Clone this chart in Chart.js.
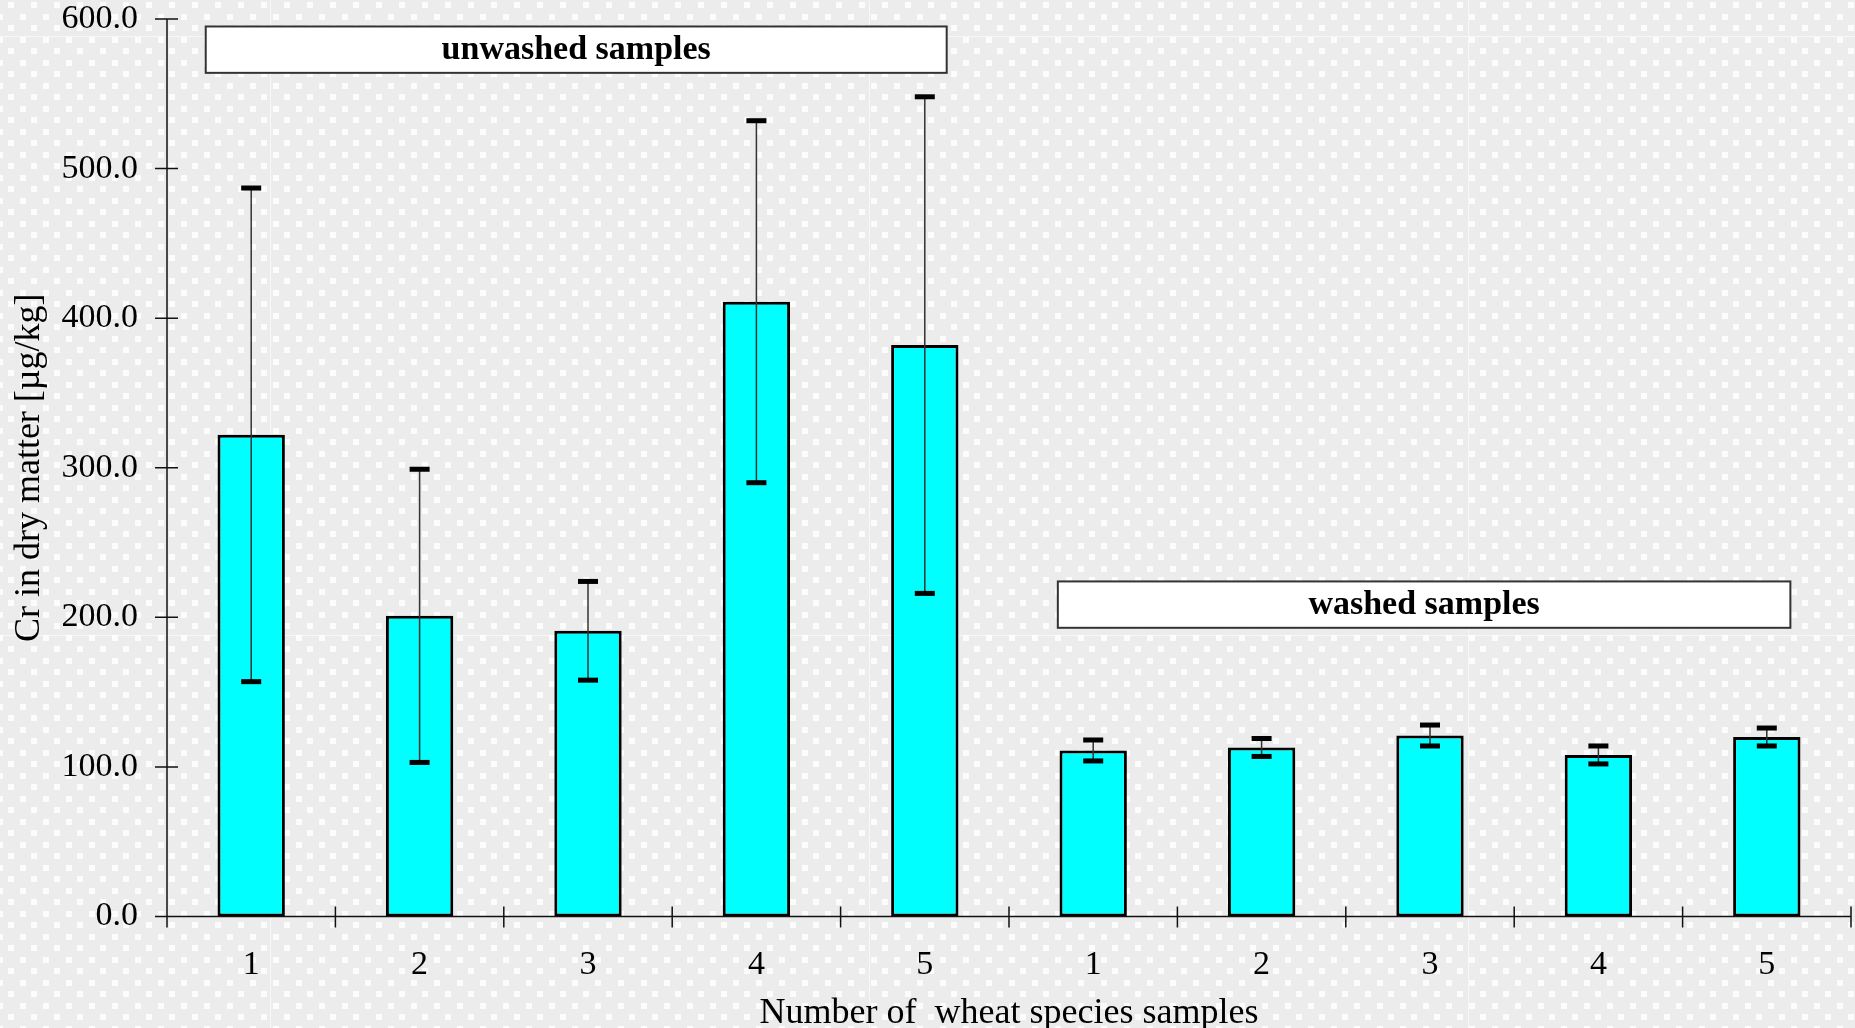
<!DOCTYPE html>
<html>
<head>
<meta charset="utf-8">
<script src="https://cdn.jsdelivr.net/npm/chart.js@4.4.0/dist/chart.umd.min.js"></script>
<style>
html, body { margin: 0; padding: 0; background: #ececec; }
#wrap { width: 1855px; height: 1028px; }
</style>
</head>
<body>
<div id="wrap"><canvas id="myChart" width="1855" height="1028"></canvas></div>
<script>
// sample numbers 1-5, unwashed then washed
var labels = ["1", "2", "3", "4", "5", "1", "2", "3", "4", "5"];
var means = [322, 201, 191, 411, 382, 111, 113, 121, 108, 120];
var sds = [165, 98, 33, 121, 166, 7, 6, 7, 6, 6];
var groups = ["unwashed samples", "washed samples"];
var yMin = 0, yMax = 600, yStep = 100;

var serif = "'Liberation Serif', 'Times New Roman', serif";

// dotted grey paper behind the chart
function makePattern(ctx) {
    var t = document.createElement("canvas");
    t.width = 23; t.height = 23;
    var g = t.getContext("2d");
    g.fillStyle = "#ececec";
    g.fillRect(0, 0, 23, 23);
    g.fillStyle = "#fcfcfc";
    g.fillRect(8, 2, 6, 6);
    g.fillRect(20, 14, 6, 6);
    g.fillRect(-3, 14, 6, 6);
    return ctx.createPattern(t, "repeat");
}

var bgPlugin = {
    id: "paper",
    beforeDraw: function(chart) {
        var c = chart.ctx;
        c.save();
        c.fillStyle = makePattern(c);
        c.fillRect(0, 0, chart.width, chart.height);
        c.strokeStyle = "rgba(255,255,255,0.6)";
        c.lineWidth = 1;
        c.beginPath();
        [270.5, 869.5, 1468.5].forEach(function(sx) { c.moveTo(sx, 0); c.lineTo(sx, chart.height); });
        [36.5, 635.5].forEach(function(sy) { c.moveTo(0, sy); c.lineTo(chart.width, sy); });
        c.stroke();
        c.restore();
    }
};

var axesPlugin = {
    id: "axes",
    afterDatasetsDraw: function(chart) {
        var c = chart.ctx, x = chart.scales.x, y = chart.scales.y, a = chart.chartArea;
        var y0 = y.getPixelForValue(0);
        var step = x.getPixelForValue(1) - x.getPixelForValue(0);
        c.save();
        c.strokeStyle = "#111";
        c.lineWidth = 1.5;
        c.beginPath();
        c.moveTo(a.left, a.top);
        c.lineTo(a.left, y0 + 11);
        c.moveTo(a.left - 12, y0);
        c.lineTo(a.right, y0);
        y.ticks.forEach(function(t) {
            var p = y.getPixelForValue(t.value);
            c.moveTo(a.left - 12, p);
            c.lineTo(a.left + 11, p);
        });
        for (var i = 0; i < labels.length; i++) {
            var p = x.getPixelForValue(i) + step / 2;
            c.moveTo(p, y0 - 10);
            c.lineTo(p, y0 + 11);
        }
        c.stroke();
        c.restore();
    }
};

var errPlugin = {
    id: "errorBars",
    afterDatasetsDraw: function(chart) {
        var c = chart.ctx, y = chart.scales.y;
        var meta = chart.getDatasetMeta(0);
        c.save();
        meta.data.forEach(function(bar, i) {
            var hi = y.getPixelForValue(means[i] + sds[i]);
            var lo = y.getPixelForValue(means[i] - sds[i]);
            c.strokeStyle = "#333";
            c.lineWidth = 1.5;
            c.beginPath();
            c.moveTo(bar.x, hi);
            c.lineTo(bar.x, lo);
            c.stroke();
            c.fillStyle = "#000";
            c.fillRect(bar.x - 10, hi - 2.5, 20, 5);
            c.fillRect(bar.x - 10, lo - 2.5, 20, 5);
        });
        c.restore();
    }
};

// label boxes, placed in category / value units
var boxSpots = [
    { from: -0.27, to: 4.13, top: 595, bottom: 564 },
    { from: 4.79, to: 9.14, top: 224, bottom: 193 }
];

var boxPlugin = {
    id: "groupBoxes",
    afterDraw: function(chart) {
        var c = chart.ctx, x = chart.scales.x, y = chart.scales.y;
        var step = x.getPixelForValue(1) - x.getPixelForValue(0);
        c.save();
        groups.forEach(function(name, k) {
            var s = boxSpots[k];
            var l = x.getPixelForValue(0) + s.from * step;
            var r = x.getPixelForValue(0) + s.to * step;
            var t = y.getPixelForValue(s.top);
            var b = y.getPixelForValue(s.bottom);
            c.fillStyle = "#ffffff";
            c.fillRect(l, t, r - l, b - t);
            c.strokeStyle = "#333";
            c.lineWidth = 2;
            c.strokeRect(l, t, r - l, b - t);
            c.fillStyle = "#000";
            c.font = "bold 34px " + serif;
            c.textAlign = "center";
            c.textBaseline = "middle";
            c.fillText(name, (l + r) / 2, (t + b) / 2 + 1);
        });
        c.restore();
    }
};

var ctx = document.getElementById("myChart");

var myChart = new Chart(ctx, {
    type: "bar",
    data: {
        labels: labels,
        datasets: [
            {
                label: "Cr",
                data: means,
                backgroundColor: "#00ffff",
                borderColor: "#000000",
                borderWidth: 3,
                borderSkipped: false,
                categoryPercentage: 1,
                barPercentage: 0.4
            }
        ]
    },
    options: {
        responsive: false,
        animation: false,
        devicePixelRatio: 1,
        layout: { padding: { top: 19, right: 4, left: 0, bottom: 0 } },
        plugins: {
            legend: { display: false },
            tooltip: { enabled: false }
        },
        scales: {
            x: {
                grid: { display: false, drawTicks: false },
                border: { display: false },
                ticks: { color: "#000", padding: 28, font: { family: serif, size: 34 } },
                title: {
                    display: true,
                    text: "Number of  wheat species samples",
                    color: "#000",
                    font: { family: serif, size: 36 },
                    padding: { top: 0, bottom: -7 }
                },
                afterFit: function(scale) {
                    scale.height = 111.5;
                    scale.paddingLeft = 0;
                    scale.paddingRight = 0;
                }
            },
            y: {
                min: yMin,
                max: yMax,
                grid: { display: false, drawTicks: false },
                border: { display: false },
                ticks: {
                    stepSize: yStep,
                    color: "#000",
                    padding: 29,
                    font: { family: serif, size: 34 },
                    callback: function(v) { return v.toFixed(1); }
                },
                title: {
                    display: true,
                    text: "Cr in dry matter [µg/kg]",
                    color: "#000",
                    font: { family: serif, size: 36 },
                    padding: { top: 8, bottom: 0 }
                },
                afterFit: function(scale) {
                    scale.width = 167;
                    scale.paddingTop = 0;
                    scale.paddingBottom = 0;
                }
            }
        }
    },
    plugins: [bgPlugin, axesPlugin, errPlugin, boxPlugin]
});
</script>
</body>
</html>
